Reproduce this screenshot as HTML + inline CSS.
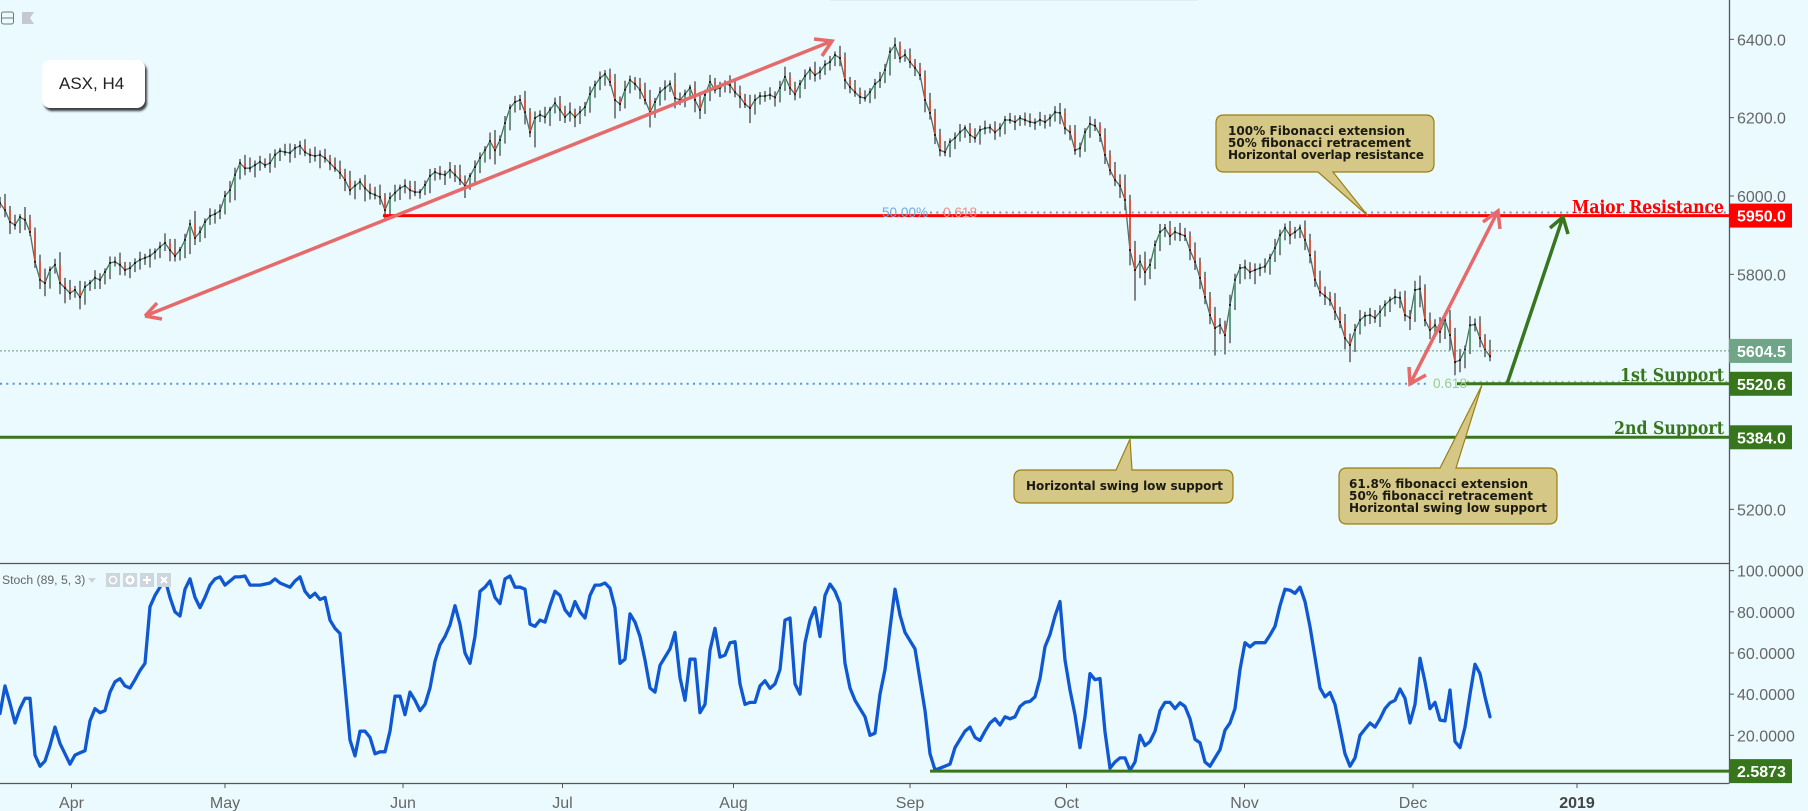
<!DOCTYPE html>
<html lang="en">
<head>
<meta charset="utf-8">
<title>ASX, H4 chart</title>
<style>
html,body{margin:0;padding:0;background:#eafaff;}
#stage{position:relative;width:1808px;height:811px;overflow:hidden;background:#eafaff;font-family:"Liberation Sans",sans-serif;}
#chart{position:absolute;left:0;top:0;}
#title-box{position:absolute;left:42px;top:60px;width:103px;height:48px;background:#fff;border-radius:8px;box-shadow:2px 3px 2px #3a3f44;font-size:17px;line-height:48px;color:#222;text-indent:17px;}
.callout{fill:#d5c785;stroke:#9c7f10;stroke-width:1.2;}
.ctext{font-family:"DejaVu Sans",sans-serif;font-weight:bold;font-size:12px;fill:#1a1a12;}
.lvl{font-family:"DejaVu Serif",serif;font-weight:bold;font-size:17.5px;}
.arrow{fill:none;stroke-width:3.5;stroke-linecap:butt;stroke-linejoin:miter;}
</style>
</head>
<body>
<div id="stage">
<svg id="chart" width="1808" height="811" viewBox="0 0 1808 811" xmlns="http://www.w3.org/2000/svg">
  <rect x="830" y="0" width="368" height="1" fill="#deeef6"/>
  <g>
    <rect x="1.5" y="12" width="12" height="12" rx="2" fill="none" stroke="#777" stroke-width="1"/>
    <line x1="1.5" y1="18" x2="13.5" y2="18" stroke="#777"/>
  </g>
  <polygon points="22,12 34,12 30,18 34,24 22,24" fill="#c4c8d2"/>

  <g id="candles"></g>
  <g id="stoch"></g>
  <g id="levels"></g>

  <text x="882" y="217" font-size="13.6" fill="#6fa8dc">50.00%</text>
  <text x="943" y="217" font-size="13.6" fill="#f08a8a">0.618</text>
  <text x="1433" y="388" font-size="13.6" fill="#9ccb8c">0.618</text>

  <g stroke="#e66a6a">
    <path class="arrow" d="M145,316 L832,41 M814,39 L832,41 L822,56"/>
    <path class="arrow" d="M1410,384 L1498,211 M1483,222 L1498,211 L1500,229 M1409,367 L1410,384 L1426,375"/>
    <path class="arrow" d="M145,316 L157,303 M145,316 L162,319"/>
  </g>
  <path class="arrow" stroke="#38761d" d="M1507,384 L1563,217 M1550,228 L1563,217 L1568,234"/>

  <g>
    <path class="callout" d="M1224,115 H1426 Q1434,115 1434,123 V164 Q1434,172 1426,172 H1333 L1368,216 L1318,172 H1224 Q1216,172 1216,164 V123 Q1216,115 1224,115 Z"/>
    <text class="ctext" x="1228" y="135" textLength="177">100% Fibonacci extension</text>
    <text class="ctext" x="1228" y="147" textLength="183">50% fibonacci retracement</text>
    <text class="ctext" x="1228" y="159" textLength="196">Horizontal overlap resistance</text>
  </g>
  <g>
    <path class="callout" d="M1022,470 H1116 L1130,439 L1132,470 H1225 Q1233,470 1233,478 V495 Q1233,503 1225,503 H1022 Q1014,503 1014,495 V478 Q1014,470 1022,470 Z"/>
    <text class="ctext" x="1026" y="490" textLength="197">Horizontal swing low support</text>
  </g>
  <g>
    <path class="callout" d="M1347,468 H1440 L1482,385 L1456,468 H1549 Q1557,468 1557,476 V516 Q1557,524 1549,524 H1347 Q1339,524 1339,516 V476 Q1339,468 1347,468 Z"/>
    <text class="ctext" x="1349" y="488" textLength="179">61.8% fibonacci extension</text>
    <text class="ctext" x="1349" y="500" textLength="184">50% fibonacci retracement</text>
    <text class="ctext" x="1349" y="512" textLength="198">Horizontal swing low support</text>
  </g>

  <text class="lvl" x="1572" y="213" fill="#ff0000" textLength="152" lengthAdjust="spacingAndGlyphs">Major Resistance</text>
  <text class="lvl" x="1620" y="381" fill="#38761d" textLength="104" lengthAdjust="spacingAndGlyphs">1st Support</text>
  <text class="lvl" x="1614" y="434" fill="#38761d" textLength="110" lengthAdjust="spacingAndGlyphs">2nd Support</text>

  <line x1="0" y1="563.5" x2="1729" y2="563.5" stroke="#555" stroke-width="1.3"/>
  <line x1="0" y1="783.5" x2="1729" y2="783.5" stroke="#555" stroke-width="1.3"/>
  <line x1="1729.5" y1="0" x2="1729.5" y2="783.5" stroke="#555" stroke-width="1.3"/>
  <g id="axes"></g>

  <g>
    <text x="2" y="584" font-size="12.2" fill="#666">Stoch (89, 5, 3)</text>
    <polygon points="88,578 96,578 92,583" fill="#ccd2d6"/>
    <rect x="106" y="573" width="14" height="14" fill="#ccd6dc"/>
    <circle cx="113" cy="580" r="3.6" fill="none" stroke="#fff" stroke-width="1.5"/>
    <rect x="123" y="573" width="14" height="14" fill="#ccd6dc"/>
    <circle cx="130" cy="580" r="3.4" fill="none" stroke="#fff" stroke-width="2.4"/>
    <rect x="140" y="573" width="14" height="14" fill="#ccd6dc"/>
    <path d="M147,576 V584 M143,580 H151" stroke="#fff" stroke-width="2"/>
    <rect x="157" y="573" width="14" height="14" fill="#ccd6dc"/>
    <path d="M161,577 L167,583 M167,577 L161,583" stroke="#fff" stroke-width="2"/>
  </g>
</svg>
<div id="title-box">ASX, H4</div>
</div>

<script>
// Closing prices, one per bar
const closes = [
5982,5964,5934,5926,5946,5939,5908,5832,5786,5778,5811,5824,5778,5765,5752,5760,5742,5768,5778,5791,
5786,5806,5829,5832,5824,5811,5816,5829,5837,5842,5847,5857,5870,5880,5862,5847,5862,5888,5928,5893,
5908,5934,5949,5954,5962,6000,6015,6054,6084,6071,6071,6079,6087,6079,6084,6105,6115,6112,6110,6122,
6128,6112,6105,6102,6105,6097,6084,6071,6059,6041,6015,6026,6036,6020,6008,6003,5997,5964,5995,6008,
6020,6026,6015,6010,6010,6028,6051,6061,6056,6054,6066,6054,6041,6026,6051,6074,6097,6117,6140,6117,
6143,6186,6225,6240,6245,6214,6163,6199,6207,6202,6220,6237,6220,6202,6214,6202,6214,6227,6260,6283,
6301,6311,6291,6245,6235,6271,6296,6286,6271,6245,6214,6240,6265,6276,6286,6250,6245,6260,6276,6245,
6220,6258,6291,6271,6276,6286,6283,6265,6253,6235,6225,6245,6255,6255,6258,6252,6276,6304,6276,6260,
6286,6306,6322,6309,6317,6335,6342,6360,6352,6296,6278,6265,6253,6250,6265,6286,6296,6322,6368,6385,
6352,6360,6342,6327,6309,6245,6212,6156,6117,6112,6138,6148,6163,6173,6156,6148,6168,6173,6175,6163,
6173,6194,6194,6189,6199,6194,6189,6187,6194,6189,6199,6214,6212,6173,6163,6117,6122,6163,6184,6179,
6156,6105,6066,6041,6026,5990,5862,5811,5832,5806,5824,5875,5908,5918,5898,5908,5903,5898,5862,5832,
5791,5742,5696,5663,5670,5645,5722,5786,5816,5818,5806,5811,5816,5820,5842,5867,5900,5918,5900,5908,
5918,5888,5849,5786,5755,5745,5734,5704,5678,5637,5620,5658,5683,5694,5696,5689,5704,5722,5734,5742,
5740,5696,5689,5760,5763,5683,5658,5670,5653,5683,5645,5576,5581,5607,5670,5672,5637,5607,5591
];
// Points above the close reached by each bar's high
const upperWicks = [
12,18,8,14,6,20,10,9,14,22,7,12,25,10,16,8,18,11,6,15,
9,7,13,10,18,6,12,9,16,8,14,7,10,19,8,22,6,12,9,26,
11,7,15,9,13,10,18,14,8,16,21,9,12,7,19,11,6,14,17,8,
10,13,7,16,9,12,6,11,15,8,18,10,7,14,9,12,20,8,11,16,
7,13,10,18,6,9,14,8,12,7,16,10,20,9,6,13,11,8,17,22,
9,14,7,12,10,18,8,13,9,16,6,11,14,8,19,7,12,10,15,9,
13,8,11,16,7,18,9,6,12,14,20,8,10,15,7,22,11,9,6,13,
16,10,14,8,12,7,17,9,13,6,18,11,8,10,15,7,14,20,9,12,
8,13,6,16,10,9,12,7,18,11,6,14,9,13,8,10,16,12,9,15,
7,11,13,6,10,9,14,8,12,18,7,11,16,6,10,13,9,15,7,12,
10,8,14,9,6,11,13,7,16,10,8,12,18,9,6,14,11,8,15,10,
7,13,9,16,11,22,10,18,14,20,12,9,16,8,14,10,18,12,9,15,
8,12,10,16,14,9,20,12,8,15,10,13,9,16,8,18,11,9,14,10,
7,15,12,9,18,11,8,14,10,16,9,12,20,8,14,10,13,9,7,16,
11,14,10,18,26,9,15,12,16,10,20,14,22,9,18,12,16,8,20
];
// Points below the close reached by each bar's low
const lowerWicks = [
10,14,24,9,16,20,8,12,18,26,11,7,22,30,13,9,24,15,8,12,
18,9,14,7,20,11,16,8,13,10,19,7,12,8,22,11,9,16,28,14,
8,12,6,15,10,7,13,20,9,14,8,18,11,6,15,9,12,7,19,10,
13,8,16,11,24,9,14,7,12,22,10,18,8,26,13,9,15,20,11,7,
14,10,18,8,13,6,16,9,11,20,7,14,10,24,8,15,12,9,18,28,
11,7,14,9,16,24,10,30,8,13,18,7,22,12,9,20,14,8,11,7,
10,15,8,36,14,9,7,12,18,9,30,11,7,16,8,20,10,14,9,24,
18,8,12,7,14,9,16,10,22,8,30,13,9,11,7,18,10,6,14,12,
8,10,7,13,9,6,11,8,16,18,12,9,14,7,10,13,8,6,11,14,
9,7,12,16,10,24,13,18,12,8,10,14,7,11,16,9,13,8,10,15,
9,12,7,16,8,11,10,14,6,13,9,7,22,12,16,9,14,7,11,10,
14,18,10,12,24,20,30,60,16,26,14,8,12,10,18,9,14,10,20,16,
22,14,18,54,12,38,16,10,8,22,14,24,12,9,16,8,14,10,18,7,
12,20,16,14,9,18,11,16,12,22,34,14,9,12,16,10,18,9,14,8,
20,12,24,8,34,12,18,10,22,14,30,26,20,16,8,12,18,14,10
];
// Stochastic %D value per bar
const stochValues = [
30.6,44,35.5,26,33,38,38,10.4,5,7.5,15,24,16,11,6,10.4,11.5,12.5,27,33,
31,32,41,46,47.5,44,43,47,51.5,55,82.5,88,92,96,87,80,78,91,96,87,
82,87,93,96,97,93,95,97,97,97.4,93,93,93,93.5,94,96,94,93,92,95,
97,90,87,89,86,87,76,72,69.5,44,17.7,10,22,22,19,11,12,12,22,39,
39,30,41,37,32,35,43,56,64,68,73.6,83,74,60,55,68,90,92,95,87,
84,96,97.4,92,92,91,74,73,76,75,83,90,88,81,78,85,80,77,88,93,
93,94,91.5,82,55,57,79,75,68,56.6,43,41,54,58,62,70,48,37,57,57,
31,35,61.4,72,58,59,65,65.5,45,35,36,36,44,46.5,42.8,45,52,76,77,45,
40,65,76,82,68,88,93.5,90,84,55,43,37,33,29,20,21,40,52,72,91,
78.4,70,66,62,47,32,11,3.2,4,5,6,14,18,22,24,19,17.5,22,26,28,
25,29,28,29,34,36,36.5,38.7,47.6,63,69,78,85,56.6,42,30,14,29,50,47,
47.6,21.7,4,7,9,9,3,7,20,15,17,22,32,36,36,33,35.8,34,28,18,
16.4,7,5,9,13,22.5,26,33,52,65,63,65,65,65,68.7,73,83,91,90.5,89,
92,85,72.8,58,43,38.7,40.8,35,23.3,11,5,9,20,23,26,24,28,33,35.8,37,
42.5,38,26,35,57.4,46,33,36,27.4,27,42,17,14,24,40,54.5,50,38.7,29
];
// Axis ticks and labels
const priceTicks = [6400,6200,6000,5800,5200];
const stochTicks = [100,80,60,40,20];
const timeLabels = ['Apr','May','Jun','Jul','Aug','Sep','Oct','Nov','Dec','2019'];
const timeTickBars = [14.3,45,80.6,112.5,146.7,182,213.3,248.9,282.6,315.4];
// Marked levels
const resistanceLevel = 5950;
const firstSupportLevel = 5520.6;
const secondSupportLevel = 5384;
const lastPrice = 5604.5;
const stochLow = 2.5873;
const fibUpperLevel = 5958;
const resistanceStartBar = 76.6;
const firstSupportStartBar = 291.4;
const stochLowStartBar = 186;

const NS = 'http://www.w3.org/2000/svg';
const AXIS_X = 1729;
function xScale(bar){ return bar * 5; }
function yPrice(p){ return 196 + (6000 - p) * 0.3917; }
function yStoch(v){ return 570.7 + (100 - v) * 2.0575; }
function make(tag, attrs, parent){
  const el = document.createElementNS(NS, tag);
  for (const k in attrs) el.setAttribute(k, attrs[k]);
  parent.appendChild(el);
  return el;
}

const candles = document.getElementById('candles');
const closeLine = make('polyline', {
  points: closes.map((c, i) => xScale(i) + ',' + yPrice(c).toFixed(1)).join(' '),
  fill: 'none', stroke: '#4f6e66', 'stroke-width': 1.3, 'stroke-linejoin': 'miter'
}, candles);



closes.forEach((c, i) => {
  const x = xScale(i);
  const open = i ? closes[i - 1] : c;
  const wick = make('line', {
    x1: x, x2: x,
    y1: yPrice(Math.max(c, open) + upperWicks[i] * 1.3).toFixed(1),
    y2: yPrice(Math.min(c, open) - lowerWicks[i] * 1.3).toFixed(1),
    stroke: '#5e5e5e', 'stroke-width': 1.5
  }, candles);
  
  
  const body = make('line', {
    x1: x, x2: x,
    y1: yPrice(open).toFixed(1),
    y2: yPrice(c).toFixed(1),
    stroke: c >= open ? '#4f9a72' : '#e4482e', 'stroke-width': 1.6
  }, candles);
  
  
  const tick = make('rect', {
    x: x - 1, y: (yPrice(c) - 1).toFixed(1), width: 2, height: 2, fill: '#222'
  }, candles);
  
  
});

const stochGroup = document.getElementById('stoch');
const stochPath = make('polyline', {
  points: stochValues.map((v, i) => xScale(i) + ',' + yStoch(v).toFixed(1)).join(' '),
  fill: 'none', stroke: '#0f58d2', 'stroke-width': 3.3, 'stroke-linejoin': 'round', 'stroke-linecap': 'round'
}, stochGroup);



const levels = document.getElementById('levels');
const lastLine = make('line', {
  x1: 0, x2: AXIS_X, y1: yPrice(lastPrice), y2: yPrice(lastPrice),
  stroke: '#5f9c80', 'stroke-width': 1, 'stroke-dasharray': '2 2'
}, levels);



const fibUpper = make('line', {
  x1: xScale(resistanceStartBar) + 547, x2: AXIS_X, y1: yPrice(fibUpperLevel), y2: yPrice(fibUpperLevel),
  stroke: '#7199c4', 'stroke-width': 2, 'stroke-dasharray': '2 4.3'
}, levels);



const fibLowerBlue = make('line', {
  x1: 0, x2: 1430, y1: yPrice(firstSupportLevel), y2: yPrice(firstSupportLevel),
  stroke: '#4f94e0', 'stroke-width': 2, 'stroke-dasharray': '2 4.3'
}, levels);



const fibLowerGreen = make('line', {
  x1: 1467, x2: AXIS_X, y1: yPrice(firstSupportLevel) - 2, y2: yPrice(firstSupportLevel) - 2,
  stroke: '#9ccb8c', 'stroke-width': 2, 'stroke-dasharray': '2 4.3'
}, levels);



const resistanceLine = make('line', {
  x1: xScale(resistanceStartBar), x2: AXIS_X, y1: yPrice(resistanceLevel), y2: yPrice(resistanceLevel),
  stroke: '#ff0000', 'stroke-width': 3
}, levels);



const firstSupportLine = make('line', {
  x1: xScale(firstSupportStartBar), x2: AXIS_X, y1: yPrice(firstSupportLevel), y2: yPrice(firstSupportLevel),
  stroke: '#38761d', 'stroke-width': 3
}, levels);



const secondSupportLine = make('line', {
  x1: 0, x2: AXIS_X, y1: yPrice(secondSupportLevel), y2: yPrice(secondSupportLevel),
  stroke: '#38761d', 'stroke-width': 3
}, levels);



const stochLowLine = make('line', {
  x1: xScale(stochLowStartBar), x2: AXIS_X, y1: yStoch(stochLow), y2: yStoch(stochLow),
  stroke: '#38761d', 'stroke-width': 3
}, levels);



const axes = document.getElementById('axes');
priceTicks.forEach((p) => {
  const y = yPrice(p);
  const tick = make('line', { x1: AXIS_X, x2: AXIS_X + 5, y1: y, y2: y, stroke: '#555', 'stroke-width': 1 }, axes);
  
  
  const label = make('text', { x: 1737, y: y + 6, 'font-size': 16, fill: '#666' }, axes);
  label.textContent = p.toFixed(1);
  
  
});
stochTicks.forEach((v) => {
  const y = yStoch(v);
  const tick = make('line', { x1: AXIS_X, x2: AXIS_X + 5, y1: y, y2: y, stroke: '#555', 'stroke-width': 1 }, axes);
  
  
  const label = make('text', { x: 1737, y: y + 6, 'font-size': 16, fill: '#666' }, axes);
  label.textContent = v.toFixed(4);
  
  
});
timeLabels.forEach((t, i) => {
  const x = xScale(timeTickBars[i]);
  const tick = make('line', { x1: x, x2: x, y1: 784, y2: 788, stroke: '#555', 'stroke-width': 1 }, axes);
  
  
  const label = make('text', {
    x: x, y: 808, 'font-size': 16, 'text-anchor': 'middle',
    fill: t === '2019' ? '#444' : '#666', 'font-weight': t === '2019' ? 'bold' : 'normal'
  }, axes);
  label.textContent = t;
  
  
});

function badge(y, value, fill, digits){
  const box = make('rect', { x: AXIS_X, y: y - 12, width: 63, height: 24, fill: fill }, axes);
  
  
  const label = make('text', { x: 1737, y: y + 6, 'font-size': 16, 'font-weight': 'bold', fill: '#fff' }, axes);
  label.textContent = value.toFixed(digits);
  
  
}
badge(yPrice(resistanceLevel), resistanceLevel, '#ff0000', 1);
badge(yPrice(lastPrice), lastPrice, '#6fa688', 1);
badge(yPrice(firstSupportLevel), firstSupportLevel, '#38761d', 1);
badge(yPrice(secondSupportLevel), secondSupportLevel, '#38761d', 1);
badge(yStoch(stochLow), stochLow, '#38761d', 4);
</script>
</body>
</html>
